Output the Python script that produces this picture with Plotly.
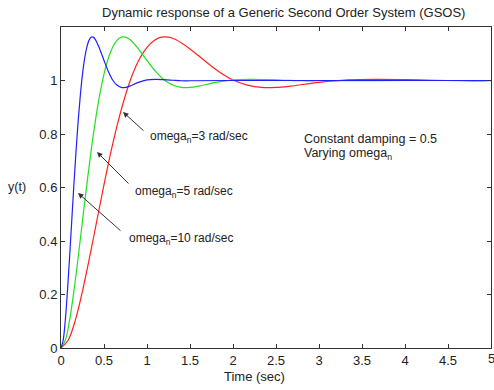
import plotly.graph_objects as go

# ---- data ----
t_w10 = [0, 0.025, 0.05, 0.075, 0.1, 0.125, 0.15, 0.175, 0.2, 0.225, 0.25, 0.275, 0.3, 0.325, 0.35, 0.375, 0.4,
         0.45, 0.5, 0.55, 0.6, 0.65, 0.7, 0.75, 0.8, 0.9, 1.0, 1.1, 1.2, 1.3, 1.4, 1.5, 2.0, 3.0, 4.0, 5.0]
y_w10 = [0, 0.029, 0.104, 0.213, 0.340, 0.476, 0.611, 0.737, 0.850, 0.946, 1.024, 1.083, 1.124, 1.150, 1.162, 1.162, 1.153,
         1.118, 1.075, 1.034, 1.002, 0.983, 0.974, 0.974, 0.979, 0.993, 1.002, 1.004, 1.003, 1.001, 0.999, 0.999, 1.0, 1.0, 1.0, 1.0]

t_w5 = [0, 0.05, 0.1, 0.15, 0.2, 0.25, 0.3, 0.35, 0.4, 0.45, 0.5, 0.55, 0.6, 0.65, 0.7, 0.75, 0.8,
        0.9, 1.0, 1.1, 1.2, 1.3, 1.4, 1.5, 1.6, 1.8, 2.0, 2.2, 2.4, 2.6, 2.8, 3.0, 4.0, 5.0]
y_w5 = [0, 0.029, 0.104, 0.213, 0.340, 0.476, 0.611, 0.737, 0.850, 0.946, 1.024, 1.083, 1.124, 1.150, 1.162, 1.162, 1.153,
        1.118, 1.075, 1.034, 1.002, 0.983, 0.974, 0.974, 0.979, 0.993, 1.002, 1.004, 1.003, 1.001, 0.999, 0.999, 1.0, 1.0]

t_w3 = [0, 0.083, 0.167, 0.25, 0.333, 0.417, 0.5, 0.583, 0.667, 0.75, 0.833, 0.917, 1.0, 1.083, 1.167, 1.25, 1.333,
        1.5, 1.667, 1.833, 2.0, 2.167, 2.333, 2.5, 2.667, 3.0, 3.333, 3.667, 4.0, 4.333, 4.667, 5.0]
y_w3 = [0, 0.029, 0.104, 0.213, 0.340, 0.476, 0.611, 0.737, 0.850, 0.946, 1.024, 1.083, 1.124, 1.150, 1.162, 1.162, 1.153,
        1.118, 1.075, 1.034, 1.002, 0.983, 0.974, 0.974, 0.979, 0.993, 1.002, 1.004, 1.003, 1.001, 0.999, 0.999]

x_ticks = [0, 0.5, 1, 1.5, 2, 2.5, 3, 3.5, 4, 4.5, 5]
x_ticktext = ["0", "0.5", "1", "1.5", "2", "2.5", "3", "3.5", "4", "4.5", "5"]
y_ticks = [0, 0.2, 0.4, 0.6, 0.8, 1.0]
y_ticktext = ["0", "0.2", "0.4", "0.6", "0.8", "1"]

FONT = "Liberation Sans, Arial, sans-serif"
TXT = "#222222"

fig = go.Figure()
for t, y, c in [(t_w3, y_w3, "#ff2020"), (t_w5, y_w5, "#20e020"), (t_w10, y_w10, "#2020ff")]:
    fig.add_trace(go.Scatter(x=t, y=y, mode="lines", line=dict(color=c, width=1.2, shape="spline"),
                             showlegend=False, hoverinfo="skip"))

# plot area in pixels: left 61, right 491, top 27, bottom 348
L, R, T, B = 61, 491, 27, 348
def px(x):
    return (x - L) / (R - L)
def py(y):
    return (B - y) / (B - T)

ann = []
def text(x, y, s, xanchor="left", size=12):
    ann.append(dict(x=px(x), y=py(y), xref="paper", yref="paper", text=s, showarrow=False,
                    xanchor=xanchor, yanchor="middle", font=dict(family=FONT, size=size, color=TXT)))

text(283, 13, "Dynamic response of a Generic Second Order System (GSOS)", xanchor="center", size=13)
text(17, 187, "y(t)", xanchor="center", size=12.5)
text(254, 377, "Time (sec)", xanchor="center", size=13)
text(148, 137, "omega<sub>n</sub>=3 rad/sec")
text(133, 192, "omega<sub>n</sub>=5 rad/sec")
text(127, 239, "omega<sub>n</sub>=10 rad/sec")
text(302, 139, "Constant damping = 0.5", size=12.5)
text(302, 154, "Varying omega<sub>n</sub>", size=12.5)
# last x tick label, cut by the right edge of the picture as in the original
ann.append(dict(x=x_ticks[-1], y=py(359), xref="x", yref="paper", text=x_ticktext[-1], showarrow=False,
                xanchor="center", yanchor="middle", font=dict(family=FONT, size=13, color=TXT)))

# arrows: head pixel -> tail pixel
for hx, hy, tx, ty in [(123, 112, 145, 132), (97, 152, 130, 185), (78, 193, 122, 232)]:
    ann.append(dict(x=(hx - L) / (R - L) * 5, y=(B - hy) / (B - T) * 1.2, xref="x", yref="y",
                    ax=tx - hx, ay=ty - hy, axref="pixel", ayref="pixel", text="", showarrow=True,
                    arrowhead=2, arrowsize=1.1, arrowwidth=1, arrowcolor="#333333"))

axis_common = dict(showline=True, linecolor="#333333", linewidth=1, mirror="ticks", ticks="inside",
                   ticklen=4, tickcolor="#333333", showgrid=False, zeroline=False, automargin=False,
                   tickfont=dict(family=FONT, size=13, color=TXT))

fig.update_layout(
    width=494, height=390,
    margin=dict(l=L, r=494 - R, t=T, b=390 - B),
    paper_bgcolor="white", plot_bgcolor="white",
    xaxis=dict(range=[0, 5], tickvals=x_ticks, ticktext=x_ticktext, **axis_common),
    yaxis=dict(range=[0, 1.2], tickvals=y_ticks, ticktext=y_ticktext, **axis_common),
    annotations=ann,
)

fig.write_html("out.html")
